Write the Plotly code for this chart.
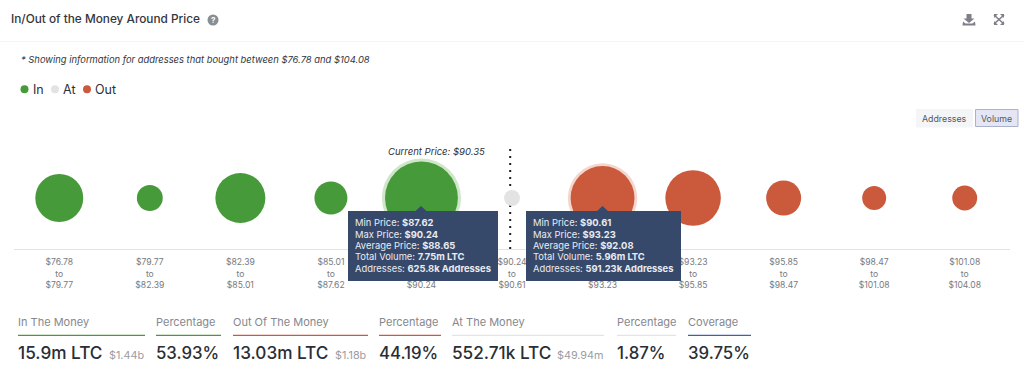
import plotly.graph_objects as go

W, H = 1024, 387
FONT = "Inter"

# ---------- data ----------
range_labels = ["$76.78<br>to<br>$79.77", "$79.77<br>to<br>$82.39", "$82.39<br>to<br>$85.01",
                "$85.01<br>to<br>$87.62", "$87.62<br>to<br>$90.24", "$90.24<br>to<br>$90.61",
                "$90.61<br>to<br>$93.23", "$93.23<br>to<br>$95.85", "$95.85<br>to<br>$98.47",
                "$98.47<br>to<br>$101.08", "$101.08<br>to<br>$104.08"]
in_volume = [3.36, 0.98, 3.65, 1.59, 7.75]
at_volume = [0.37]
out_volume = [5.96, 4.5, 1.79, 0.84, 0.91]
level = [0.5] * 11
current_price_index = 4.98

tooltip_a = [("Min Price: ", "$87.62"), ("Max Price: ", "$90.24"), ("Average Price: ", "$88.65"),
             ("Total Volume: ", "7.75m LTC"), ("Addresses: ", "625.8k Addresses")]
tooltip_b = [("Min Price: ", "$90.61"), ("Max Price: ", "$93.23"), ("Average Price: ", "$92.08"),
             ("Total Volume: ", "5.96m LTC"), ("Addresses: ", "591.23k Addresses")]

stat_labels = ["In The Money", "Percentage", "Out Of The Money", "Percentage",
               "At The Money", "Percentage", "Coverage"]
stat_values = ["15.9m LTC", "53.93%", "13.03m LTC", "44.19%", "552.71k LTC", "1.87%", "39.75%"]
stat_usd = ["$1.44b", "", "$1.18b", "", "$49.94m", "", ""]

GREEN, GREY, RED, BLUE = "#479a3a", "#e3e3e3", "#cb5a3d", "#3f5fb5"
stat_colors = [GREEN, GREEN, RED, RED, "#e2e4e8", "#e2e4e8", BLUE]
stat_left = [18, 156, 233, 379, 452, 617, 688]
stat_right = [145, 221, 368, 441, 604, 676, 751]
usd_right = [144, 0, 367, 0, 604, 0, 0]

# ---------- helpers ----------
def px(x): return x / W
def py(y): return 1 - y / H

shapes, annots = [], []

def text(x, y, s, size, color="#2c3038", xa="left", ya="middle", weight=None, style=None, align="left"):
    f = dict(family=FONT, size=size, color=color)
    if weight: f["weight"] = weight
    if style: f["style"] = style
    annots.append(dict(x=px(x), y=py(y), xref="paper", yref="paper", text=s, showarrow=False,
                       xanchor=xa, yanchor=ya, align=align, font=f, borderpad=0, borderwidth=0))

def rect(x0, y0, x1, y1, fill, line=None, lw=1, layer="above"):
    shapes.append(dict(type="rect", xref="paper", yref="paper", x0=px(x0), x1=px(x1), y0=py(y0), y1=py(y1),
                       fillcolor=fill, line=dict(color=line or fill, width=lw if line else 0), layer=layer))

def circle(cx, cy, r, fill):
    shapes.append(dict(type="circle", xref="paper", yref="paper", x0=px(cx - r), x1=px(cx + r),
                       y0=py(cy + r), y1=py(cy - r), fillcolor=fill, line=dict(width=0), layer="above"))

def poly(points, fill=None, line=None, lw=1.5):
    d = "M" + " L".join(f"{px(a):.5f},{py(b):.5f}" for a, b in points)
    if fill: d += " Z"
    shapes.append(dict(type="path", xref="paper", yref="paper", path=d, fillcolor=fill or "rgba(0,0,0,0)",
                       line=dict(color=line or fill, width=lw if line else 0), layer="above"))

# ---------- traces ----------
SIZEREF = 0.00292
HALO = 1.18
fig = go.Figure()
fig.add_trace(go.Scatter(x=[range_labels[4]], y=[level[4]], mode="markers", cliponaxis=False, hoverinfo="skip",
                         marker=dict(size=[in_volume[4]], sizemode="area", sizeref=SIZEREF / HALO, opacity=1,
                                     color="#cfe6ca", line=dict(width=0))))
fig.add_trace(go.Scatter(x=[range_labels[6]], y=[level[6]], mode="markers", cliponaxis=False, hoverinfo="skip",
                         marker=dict(size=[out_volume[0]], sizemode="area", sizeref=SIZEREF / HALO, opacity=1,
                                     color="#f4d6cd", line=dict(width=0))))
for name, xs, ys, vals, color in [("In", range_labels[:5], level[:5], in_volume, GREEN),
                                  ("At", range_labels[5:6], level[5:6], at_volume, GREY),
                                  ("Out", range_labels[6:], level[6:], out_volume, RED)]:
    fig.add_trace(go.Scatter(x=xs, y=ys, name=name, mode="markers", cliponaxis=False,
                             marker=dict(size=vals, sizemode="area", sizeref=SIZEREF, opacity=1, color=color,
                                         line=dict(width=0))))

# current price dotted line (under the bubbles)
shapes.append(dict(type="line", xref="x", yref="y", x0=current_price_index, x1=current_price_index, y0=0, y1=1,
                   line=dict(color="#1d1f24", width=2, dash="2px,5px"), layer="below"))

# ---------- header ----------
text(11, 19.5, "In/Out of the Money Around Price", 11.8, "#33363d", weight=500)
circle(213, 20, 5.5, "#8a8d92")
text(213, 20, "?", 8, "#ffffff", xa="center", weight=700)
rect(0, 41, W, 41.7, "#eef0f2")
text(21, 59.5, "* Showing information for addresses that bought between $76.78 and $104.08", 9.4,
     "#33363d", style="italic")

# download icon
poly([(966.5, 14), (971.5, 14), (971.5, 18.5), (974.5, 18.5), (969, 23), (963.5, 18.5), (966.5, 18.5)], fill="#7d8086")
poly([(963, 21.5), (965.5, 23.5), (972.5, 23.5), (975, 21.5), (975.5, 25.5), (962.5, 25.5)], fill="#7d8086")
# expand icon
poly([(994, 15), (1004, 24)], line="#7d8086", lw=1.6)
poly([(1004, 15), (994, 24)], line="#7d8086", lw=1.6)
for pts in ([(994, 14), (998, 14), (994, 18)], [(1004, 14), (1000, 14), (1004, 18)],
            [(994, 25), (998, 25), (994, 21)], [(1004, 25), (1000, 25), (1004, 21)]):
    poly(pts, fill="#7d8086")

# legend
for cx, c, lab, tx in [(24.5, GREEN, "In", 32.5), (55, GREY, "At", 63), (87, RED, "Out", 95)]:
    circle(cx, 89.3, 4, c)
    text(tx, 89.3, lab, 12.5, "#2c3038")

# toggle buttons
rect(916, 109, 973, 127.5, "#f4f5f6")
rect(975.5, 109.5, 1018, 126.5, "#e4e7f3", line="#aab1cd", lw=1)
text(944.5, 118.3, "Addresses", 8.8, "#55585e", xa="center")
text(996.8, 118.3, "Volume", 8.8, "#55585e", xa="center")

text(388, 151, "Current Price: $90.35", 9.5, "#2c3038", style="italic")

# ---------- tooltips ----------
TIP = "#37496a"
TIP_LINES = [222.7, 234.1, 245.5, 256.9, 268.2]
for rows, x0, x1, tipx in [(tooltip_a, 348, 498, 421), (tooltip_b, 526, 681, 602.5)]:
    rect(x0, 211, x1, 281, TIP)
    poly([(tipx - 6, 211.5), (tipx, 206), (tipx + 6, 211.5)], fill=TIP)
    for (a, b), yy in zip(rows, TIP_LINES):
        text(x0 + 6.5, yy, f"{a}<b>{b}</b>", 9.4, "#e9ecf2")

# ---------- stats ----------
for i, lab in enumerate(stat_labels):
    text(stat_left[i], 322, lab, 11, "#85888e")
    rect(stat_left[i], 334.7, stat_right[i], 335.9, stat_colors[i])
    text(stat_left[i], 352.5, stat_values[i], 17.2 if stat_usd[i] else 16.8, "#2a2e35", weight=500)
    if stat_usd[i]:
        text(usd_right[i], 355, stat_usd[i], 10.8, "#9a9da3", xa="right")

fig.update_layout(
    width=W, height=H, margin=dict(l=0, r=0, t=0, b=0), showlegend=False,
    paper_bgcolor="#ffffff", plot_bgcolor="#ffffff", shapes=shapes, annotations=annots,
    font=dict(family=FONT),
    xaxis=dict(domain=[px(14), px(1010)], type="category", categoryorder="array", categoryarray=range_labels,
               range=[-0.5, 10.5], showgrid=False, zeroline=False, showline=True, linecolor="#e1e3e6", linewidth=1,
               ticks="", tickangle=0, ticklabelstandoff=5, tickfont=dict(family=FONT, size=8.6, color="#777a80")),
    yaxis=dict(domain=[py(249), py(147)], range=[0, 1], visible=False, fixedrange=True),
)
fig.write_html("out.html", config=dict(displayModeBar=False),
               post_script="document.body.style.margin='0';document.body.style.overflow='hidden';")
